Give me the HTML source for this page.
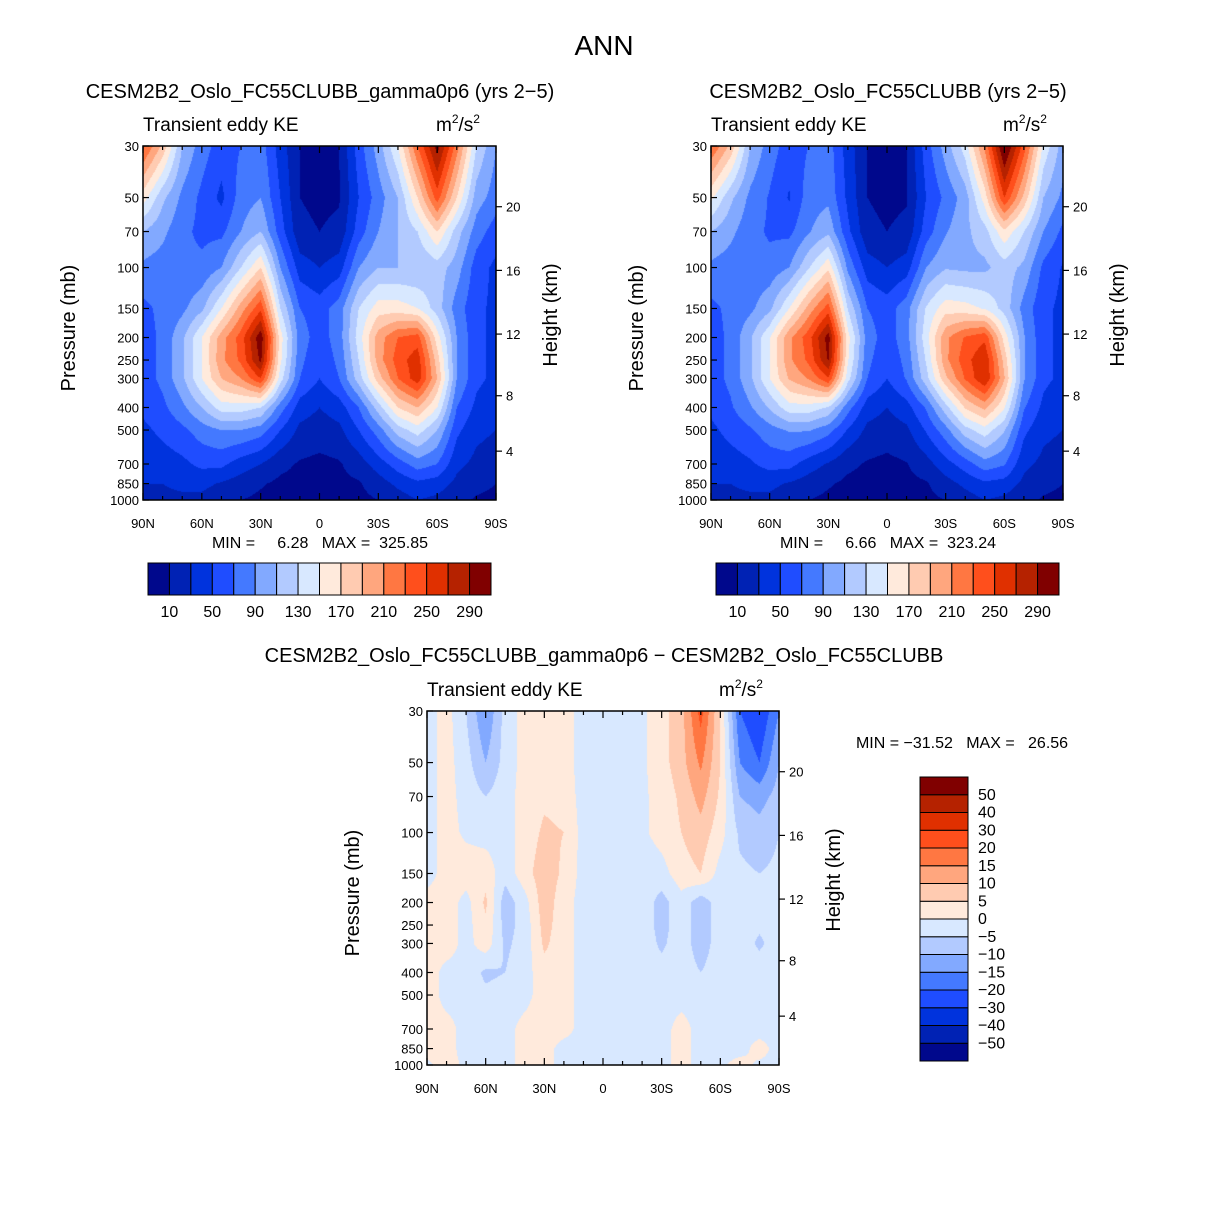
<!DOCTYPE html>
<html><head><meta charset="utf-8">
<style>
body{margin:0;background:#fff;}
#wrap{position:relative;width:1208px;height:1210px;font-family:"Liberation Sans",sans-serif;}
canvas{position:absolute;}
svg{position:absolute;left:0;top:0;}
text{font-family:"Liberation Sans",sans-serif;fill:#000;white-space:pre;}
</style></head><body>
<div id="wrap">
<canvas id="c1" width="353" height="354" style="left:143px;top:146px"></canvas>
<canvas id="c2" width="352" height="354" style="left:711px;top:146px"></canvas>
<canvas id="c3" width="352" height="354" style="left:427px;top:711px"></canvas>
<svg id="ov" width="1208" height="1210">
<text x="604" y="55" font-size="28" text-anchor="middle">ANN</text>
<text x="320" y="98" font-size="20" text-anchor="middle">CESM2B2_Oslo_FC55CLUBB_gamma0p6 (yrs 2−5)</text>
<text x="888" y="98" font-size="20" text-anchor="middle">CESM2B2_Oslo_FC55CLUBB (yrs 2−5)</text>
<text x="604" y="662" font-size="20" text-anchor="middle">CESM2B2_Oslo_FC55CLUBB_gamma0p6 − CESM2B2_Oslo_FC55CLUBB</text>
<text x="320" y="548" font-size="16" text-anchor="middle" xml:space="preserve">MIN =     6.28   MAX =  325.85</text>
<text x="888" y="548" font-size="16" text-anchor="middle" xml:space="preserve">MIN =     6.66   MAX =  323.24</text>
<text x="962" y="748" font-size="16" text-anchor="middle" xml:space="preserve">MIN = −31.52   MAX =   26.56</text>
</svg>
</div>
<script>
const levelsP=[30,50,70,100,150,200,250,300,400,500,700,850,1000];
const lats=[90,80,70,60,50,40,30,20,10,0,-10,-20,-30,-40,-50,-60,-70,-80,-90];
const keA=[
[235,185,110,80,60,70,80,40,10,5,10,60,100,150,230,300,220,130,90],
[160,115,85,65,45,80,90,50,10,5,8,50,80,110,170,240,170,100,80],
[110,95,75,65,65,90,110,60,15,10,15,60,90,110,130,170,120,80,60],
[85,80,75,75,90,130,170,90,40,30,40,90,110,110,110,120,100,60,45],
[65,75,85,105,150,200,245,130,70,60,80,130,160,160,150,120,80,55,45],
[60,75,105,150,200,240,305,160,80,60,80,140,200,230,240,160,90,55,45],
[60,75,105,150,205,235,295,155,75,55,75,130,200,240,262,180,90,55,45],
[60,75,105,150,190,210,250,140,70,50,70,120,180,230,262,190,90,55,45],
[55,65,85,110,140,140,130,80,40,30,40,70,120,170,190,150,70,45,35],
[45,55,65,80,90,90,80,50,25,20,25,50,80,120,140,110,55,35,30],
[35,40,45,55,55,40,30,15,8,5,8,20,40,60,80,70,35,25,20],
[30,30,35,35,28,20,12,6,5,3,5,8,20,35,45,40,25,15,10],
[25,25,25,25,18,10,6,5,5,3,5,5,10,20,30,25,15,8,6]];
const keB=[
[230,185,110,80,60,70,80,40,10,5,10,60,100,140,215,318,240,145,100],
[155,115,85,68,48,80,85,45,10,5,8,50,75,100,160,250,185,110,85],
[110,95,77,67,65,88,105,55,15,10,15,60,88,105,122,165,130,90,65],
[85,80,77,77,90,128,165,85,40,30,40,90,108,105,105,120,105,65,48],
[65,75,85,105,150,198,240,128,70,60,82,132,162,158,148,122,82,55,45],
[60,75,107,148,205,242,300,158,80,60,82,142,205,232,245,162,92,55,45],
[60,75,105,150,205,235,292,152,75,55,76,132,205,242,268,182,92,55,45],
[60,75,105,150,192,212,248,138,70,50,72,122,185,232,270,192,92,55,45],
[55,67,87,112,142,142,128,78,40,30,42,72,122,172,196,152,72,45,35],
[45,57,67,82,92,92,78,48,25,20,26,52,82,122,142,112,55,35,30],
[35,40,47,57,57,40,28,14,8,5,9,22,42,60,82,72,35,25,20],
[30,30,35,35,28,20,12,6,5,3,5,8,22,35,46,42,25,15,10],
[25,25,25,25,18,10,6,5,5,3,5,5,10,20,30,25,15,8,6]];
const diffD=[
[-2,2,-5,-15,-3,2,3,2,-2,-2,-2,-1,3,8,22,5,-20,-25,-15],
[-2,2,-3,-10,-3,2,3,2,-2,-2,-2,-1,3,8,16,5,-15,-20,-10],
[-2,2,-2,-5,-2,2,4,3,-2,-2,-2,-1,2,6,12,4,-10,-12,-8],
[-2,2,-1,-2,-2,2,6,5,-2,-2,-2,-1,2,5,8,2,-6,-8,-5],
[-3,3,3,3,-3,3,8,4,-2,-2,-5,-3,-2,3,5,-2,-4,-5,-4],
[3,3,-2,6,-8,-2,8,2,-2,-2,-3,-2,-7,-2,-8,-2,-2,-3,-2],
[3,3,-2,4,-7,-3,7,2,-2,-2,-3,-2,-7,-2,-8,-2,-2,-4,-2],
[3,3,-2,3,-6,-3,6,2,-2,-2,-2,-2,-6,-2,-8,-2,-2,-6,-2],
[3,-2,-2,-6,-5,-2,3,2,-2,-2,-2,-2,-3,-2,-5,-2,-2,-2,-2],
[3,-2,-2,-4,-3,-2,3,2,-2,-2,-2,-2,-2,-2,-2,-2,-2,-2,-2],
[2,2,-2,-2,-2,2,3,2,-2,-2,-2,-2,-2,2,-2,-2,-2,-2,-2],
[2,2,-2,-2,-2,2,2,-2,-2,-2,-2,-2,-2,2,-2,-2,-2,2,-2],
[-1,2,-1,-1,-1,1,1,-1,-1,-1,-1,-1,-1,1,-1,-1,2,-1,-1]];
const keLevels=[10,30,50,70,90,110,130,150,170,190,210,230,250,270,290];
const keTickLabels=["10","50","90","130","170","210","250","290"];
const diffLevels=[-50,-40,-30,-20,-15,-10,-5,0,5,10,15,20,30,40,50];
const colors=["#00088c","#0022b4","#0033dd","#1f4dff","#4479ff","#82a9ff","#b2caff","#d8e8ff","#ffeadc","#ffcbb1","#ffa67e","#ff7742","#ff4f1c","#e03000","#b52200","#800000"];
const pLabels=[30,50,70,100,150,200,250,300,400,500,700,850,1000];
const kmTicks=[4,8,12,16,20];
const latLabels=["90N","60N","30N","0","30S","60S","90S"];

const L30=Math.log(30),LR=Math.log(1000/30);
function colorOf(v,lev){let i=0;while(i<lev.length&&v>=lev[i])i++;return colors[i];}
function field(data,lat,lnp){
  let fi=(90-lat)/10; let i0=Math.min(17,Math.floor(fi)); let tx=fi-i0;
  let j0=0; while(j0<levelsP.length-2&&Math.log(levelsP[j0+1])<lnp)j0++;
  let a=Math.log(levelsP[j0]),b=Math.log(levelsP[j0+1]);let ty=Math.max(0,Math.min(1,(lnp-a)/(b-a)));
  const v00=data[j0][i0],v01=data[j0][i0+1],v10=data[j0+1][i0],v11=data[j0+1][i0+1];
  return (v00*(1-tx)+v01*tx)*(1-ty)+(v10*(1-tx)+v11*tx)*ty;
}
function drawField(id,data,lev){
  const c=document.getElementById(id),ctx=c.getContext('2d');const W=c.width,H=c.height;
  const img=ctx.createImageData(W,H);
  const cache={};
  for(let y=0;y<H;y++){const lnp=L30+(y+0.5)/H*LR;
    for(let x=0;x<W;x++){const lat=90-(x+0.5)/W*180;
      const col=colorOf(field(data,lat,lnp),lev);
      let rgb=cache[col]||(cache[col]=[parseInt(col.substr(1,2),16),parseInt(col.substr(3,2),16),parseInt(col.substr(5,2),16)]);
      const k=(y*W+x)*4;img.data[k]=rgb[0];img.data[k+1]=rgb[1];img.data[k+2]=rgb[2];img.data[k+3]=255;}}
  ctx.putImageData(img,0,0);
}
drawField('c1',keA,keLevels);drawField('c2',keB,keLevels);drawField('c3',diffD,diffLevels);

function pOfKm(z){const m=z*1000;if(m<=11000)return 1013.25*Math.pow(1-2.25577e-5*m,5.25588);return 226.32*Math.exp(-(m-11000)/6341.6);}
const NS='http://www.w3.org/2000/svg';const ov=document.getElementById('ov');
function mk(tag,attrs,txt){const e=document.createElementNS(NS,tag);for(const k in attrs)e.setAttribute(k,attrs[k]);if(txt!==undefined)e.textContent=txt;ov.appendChild(e);return e;}
function axes(x0,y0,W,H,pre){
  const r=mk('rect',{x:x0,y:y0,width:W,height:H,fill:'none',stroke:'#000','stroke-width':1.5});
  
  
  const yOf=p=>y0+(Math.log(p)-L30)/LR*H;
  pLabels.forEach(p=>{const y=yOf(p);
    mk('line',{x1:x0,x2:x0+6,y1:y,y2:y,stroke:'#000','stroke-width':1.2});
    const t=mk('text',{x:x0-4,y:y+5,'font-size':13,'text-anchor':'end'},String(p));
    
    });
  kmTicks.forEach(z=>{const y=yOf(pOfKm(z));
    mk('line',{x1:x0+W,x2:x0+W+6,y1:y,y2:y,stroke:'#000','stroke-width':1.2});
    const t=mk('text',{x:x0+W+10,y:y+5,'font-size':13},String(z));
    
    });
  for(let i=0;i<=18;i++){const x=x0+i*W/18;const len=i%3==0?7:4;
    mk('line',{x1:x,x2:x,y1:y0+H,y2:y0+H-len,stroke:'#000','stroke-width':1.2});
    mk('line',{x1:x,x2:x,y1:y0,y2:y0+len,stroke:'#000','stroke-width':1.2});}
  latLabels.forEach((s,i)=>{const t=mk('text',{x:x0+i*W/6,y:y0+H+28,'font-size':13,'text-anchor':'middle'},s);
    
    });
  let t=mk('text',{x:0,y:0,'font-size':20,'text-anchor':'middle',transform:`translate(${x0-68},${y0+H/2+5}) rotate(-90)`},'Pressure (mb)');
  
  t=mk('text',{x:0,y:0,'font-size':20,'text-anchor':'middle',transform:`translate(${x0+W+61},${y0+H/2-8}) rotate(-90)`},'Height (km)');
  
  t=mk('text',{x:x0,y:y0-15,'font-size':19},'Transient eddy KE');
  
  t=mk('text',{x:x0+W-60,y:y0-15,'font-size':19},'m');
  const ts=document.createElementNS(NS,'tspan');ts.setAttribute('font-size',12);ts.setAttribute('dy',-8);ts.textContent='2';t.appendChild(ts);
  const ts2=document.createElementNS(NS,'tspan');ts2.setAttribute('dy',8);ts2.textContent='/s';t.appendChild(ts2);
  const ts3=document.createElementNS(NS,'tspan');ts3.setAttribute('font-size',12);ts3.setAttribute('dy',-8);ts3.textContent='2';t.appendChild(ts3);
  
}
axes(143,146,353,354,'panel1');axes(711,146,352,354,'panel2');axes(427,711,352,354,'diff');

function hbar(x0,y0,W,H,pre){const bw=W/16;
  colors.forEach((c,i)=>{const r=mk('rect',{x:x0+i*bw,y:y0,width:bw,height:H,fill:c,stroke:'#000','stroke-width':1});
    });
  keTickLabels.forEach((s,i)=>{const t=mk('text',{x:x0+(1+2*i)*bw,y:y0+H+22,'font-size':16,'text-anchor':'middle'},s);
    });
}
hbar(148,563,343,32,'panel1');hbar(716,563,343,32,'panel2');
(function(){const x0=920,y0=777,W=48,H=284,bh=H/16;
  colors.forEach((c,i)=>{const r=mk('rect',{x:x0,y:y0+(15-i)*bh,width:W,height:bh,fill:c,stroke:'#000','stroke-width':1});
    });
  diffLevels.forEach((v,i)=>{const t=mk('text',{x:x0+58,y:y0+(15-i)*bh+5,'font-size':16},(v<0?'−'+(-v):String(v)));
    });
})();
</script>
</body></html>
